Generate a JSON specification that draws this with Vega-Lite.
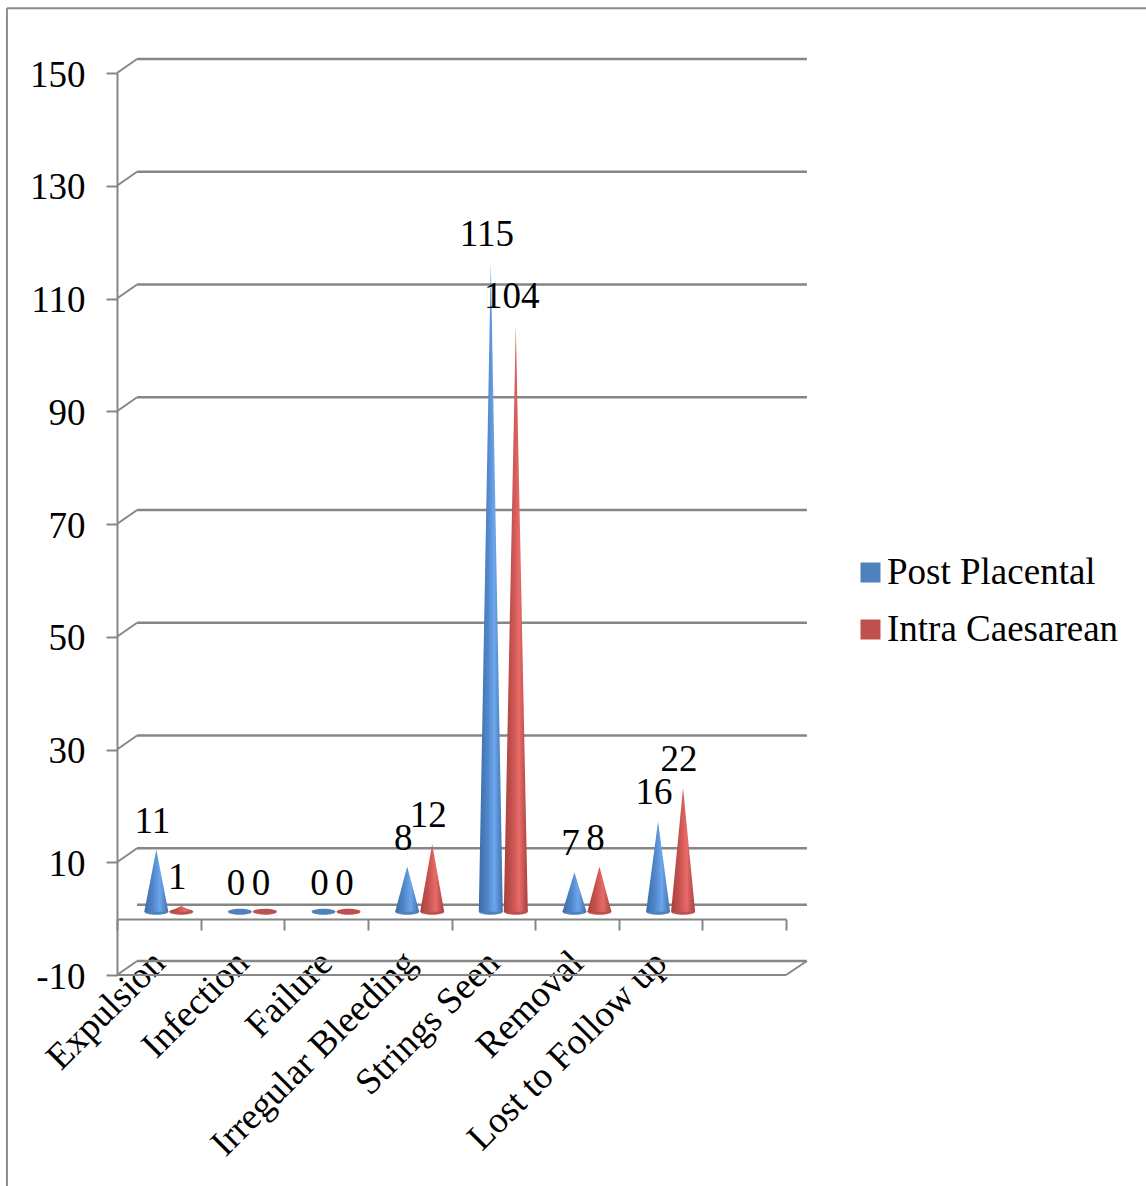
{
  "$schema": "https://vega.github.io/schema/vega-lite/v6.json",
  "autosize": "none",
  "padding": {"left": 117, "top": 59, "right": 339, "bottom": 211},
  "width": 690,
  "height": 916,
  "background": "white",
  "config": {"view": {"stroke": null}, "font": "Liberation Serif"},
  "datasets": {
    "outcomes": [
      {"category": "Expulsion", "series": "Post Placental", "value": 11, "left": 0, "right": 0},
      {"category": "Infection", "series": "Post Placental", "value": 0, "left": 0, "right": 0},
      {"category": "Failure", "series": "Post Placental", "value": 0, "left": 0, "right": 0},
      {"category": "Irregular Bleeding", "series": "Post Placental", "value": 8, "left": 0, "right": 0},
      {"category": "Strings Seen", "series": "Post Placental", "value": 115, "left": 0, "right": 0},
      {"category": "Removal", "series": "Post Placental", "value": 7, "left": 0, "right": 0},
      {"category": "Lost to Follow up", "series": "Post Placental", "value": 16, "left": 0, "right": 0},
      {"category": "Expulsion", "series": "Intra Caesarean", "value": 1, "left": 0, "right": 0},
      {"category": "Infection", "series": "Intra Caesarean", "value": 0, "left": 0, "right": 0},
      {"category": "Failure", "series": "Intra Caesarean", "value": 0, "left": 0, "right": 0},
      {"category": "Irregular Bleeding", "series": "Intra Caesarean", "value": 12, "left": 0, "right": 0},
      {"category": "Strings Seen", "series": "Intra Caesarean", "value": 104, "left": 0, "right": 0},
      {"category": "Removal", "series": "Intra Caesarean", "value": 8, "left": 0, "right": 0},
      {"category": "Lost to Follow up", "series": "Intra Caesarean", "value": 22, "left": 0, "right": 0}
    ],
    "levels": [
      {"level": -10, "back": -7.52},
      {"level": 10, "back": 12.48},
      {"level": 30, "back": 32.48},
      {"level": 50, "back": 52.48},
      {"level": 70, "back": 72.48},
      {"level": 90, "back": 92.48},
      {"level": 110, "back": 112.48},
      {"level": 130, "back": 132.48},
      {"level": 150, "back": 152.48}
    ]
  },
  "resolve": {"scale": {"x": "independent", "y": "independent", "xOffset": "independent"}},
  "layer": [
    {
      "description": "Outer chart frame",
      "data": {"values": [{"top": 161.5, "bottom": -47.5}]},
      "layer": [
        {
          "mark": {"type": "rule", "color": "#8c8c8c", "strokeWidth": 2},
          "encoding": {
            "x": {"datum": -1.316, "type": "quantitative", "scale": {"domain": [0, 8], "range": [0, 669], "nice": false, "zero": false}, "axis": null},
            "y": {"field": "top", "type": "quantitative", "scale": {"domain": [-10, 150], "range": [916, 14], "nice": false, "zero": false}, "axis": null},
            "y2": {"field": "bottom"}
          }
        },
        {
          "mark": {"type": "rule", "color": "#8c8c8c", "strokeWidth": 2},
          "encoding": {
            "x": {"datum": -1.316, "type": "quantitative", "scale": {"domain": [0, 8], "range": [0, 669], "nice": false, "zero": false}, "axis": null},
            "x2": {"datum": 12.31},
            "y": {"field": "top", "type": "quantitative", "scale": {"domain": [-10, 150], "range": [916, 14], "nice": false, "zero": false}, "axis": null}
          }
        }
      ]
    },
    {
      "description": "Side wall slants, carrying the value axis",
      "data": {"name": "levels"},
      "mark": {"type": "rule", "color": "#868686", "strokeWidth": 2},
      "encoding": {
        "x": {"datum": 0, "type": "quantitative", "scale": {"domain": [0, 8], "range": [0, 669], "nice": false, "zero": false}, "axis": null},
        "x2": {"datum": 0.24},
        "y": {
          "field": "level", "type": "quantitative",
          "scale": {"domain": [-10, 150], "range": [916, 14], "nice": false, "zero": false},
          "axis": {
            "values": [-10, 10, 30, 50, 70, 90, 110, 130, 150],
            "labelExpr": "'' + datum.value",
            "title": null, "grid": false,
            "domainColor": "#868686", "domainWidth": 2,
            "tickColor": "#868686", "tickWidth": 2, "tickSize": 11,
            "labelFont": "Liberation Serif", "labelFontSize": 37, "labelColor": "#000000",
            "labelPadding": 21, "labelOffset": 2, "labelBound": false, "labelFlush": false
          }
        },
        "y2": {"field": "back"}
      }
    },
    {
      "description": "Back wall gridlines and the floor edges",
      "data": {"name": "levels"},
      "layer": [
        {
          "mark": {"type": "rule", "color": "#868686", "strokeWidth": 2.5},
          "encoding": {
            "x": {"datum": 0.24, "type": "quantitative", "scale": {"domain": [0, 8], "range": [0, 669], "nice": false, "zero": false}, "axis": null},
            "x2": {"datum": 8.25},
            "y": {"field": "back", "type": "quantitative", "scale": {"domain": [-10, 150], "range": [916, 14], "nice": false, "zero": false}, "axis": null}
          }
        },
        {
          "data": {"values": [{"back": 2.48}]},
          "mark": {"type": "rule", "color": "#868686", "strokeWidth": 2.5},
          "encoding": {
            "x": {"datum": 0.24, "type": "quantitative", "scale": {"domain": [0, 8], "range": [0, 669], "nice": false, "zero": false}, "axis": null},
            "x2": {"datum": 8.25},
            "y": {"field": "back", "type": "quantitative", "scale": {"domain": [-10, 150], "range": [916, 14], "nice": false, "zero": false}, "axis": null}
          }
        },
        {
          "data": {"values": [{"level": -10, "back": -7.52}]},
          "layer": [
            {
              "mark": {"type": "rule", "color": "#868686", "strokeWidth": 2},
              "encoding": {
                "x": {"datum": 0, "type": "quantitative", "scale": {"domain": [0, 8], "range": [0, 669], "nice": false, "zero": false}, "axis": null},
                "x2": {"datum": 8},
                "y": {"field": "level", "type": "quantitative", "scale": {"domain": [-10, 150], "range": [916, 14], "nice": false, "zero": false}, "axis": null}
              }
            },
            {
              "mark": {"type": "rule", "color": "#868686", "strokeWidth": 2},
              "encoding": {
                "x": {"datum": 8, "type": "quantitative", "scale": {"domain": [0, 8], "range": [0, 669], "nice": false, "zero": false}, "axis": null},
                "x2": {"datum": 8.25},
                "y": {"field": "level", "type": "quantitative", "scale": {"domain": [-10, 150], "range": [916, 14], "nice": false, "zero": false}, "axis": null},
                "y2": {"field": "back"}
              }
            }
          ]
        }
      ]
    },
    {
      "description": "Category axis along the front edge of the floor",
      "data": {"name": "outcomes"},
      "mark": {"type": "point", "opacity": 0},
      "encoding": {
        "x": {
          "field": "category", "type": "nominal", "sort": null,
          "scale": {
            "domain": ["Expulsion", "Infection", "Failure", "Irregular Bleeding", "Strings Seen", "Removal", "Lost to Follow up", " "],
            "range": [0, 669], "paddingInner": 0, "paddingOuter": 0
          },
          "axis": {
            "title": null, "orient": "bottom", "offset": -56, "tickBand": "extent",
            "domainColor": "#868686", "domainWidth": 2,
            "tickColor": "#868686", "tickWidth": 2, "tickSize": 11,
            "labelFont": "Liberation Serif", "labelFontSize": 37, "labelColor": "#000000",
            "labelAngle": -45, "labelAlign": "right", "labelBaseline": "middle",
            "labelPadding": 27, "labelOverlap": false, "labelBound": false, "labelFlush": false, "labelLimit": 0
          }
        },
        "y": {"datum": 0, "type": "quantitative", "scale": {"domain": [-10, 150], "range": [916, 14], "nice": false, "zero": false}, "axis": null}
      }
    },
    {
      "description": "Post Placental cones",
      "data": {"name": "outcomes"},
      "transform": [{"filter": "datum.series === 'Post Placental'"}],
      "encoding": {
        "x": {
          "field": "category", "type": "nominal", "sort": null,
          "scale": {
            "type": "point",
            "domain": ["Expulsion", "Infection", "Failure", "Irregular Bleeding", "Strings Seen", "Removal", "Lost to Follow up", " "],
            "range": [10, 679], "padding": 0.5
          },
          "axis": null
        }
      },
      "layer": [
        {
          "mark": {"type": "point", "filled": true, "opacity": 1, "size": 576, "strokeWidth": 0, "shape": "M-1,0A1,0.25,0,1,1,1,0A1,0.25,0,1,1,-1,0Z"},
          "encoding": {
            "xOffset": {"datum": "value", "type": "nominal", "scale": {"type": "point", "padding": 0, "domain": ["left", "value", "right"], "range": [-24.5, -0.5]}},
            "y": {"datum": 0, "type": "quantitative", "scale": {"domain": [-10, 150], "range": [909, 7], "nice": false, "zero": false}, "axis": null},
            "color": {
              "field": "series", "type": "nominal",
              "scale": {"domain": ["Post Placental", "Intra Caesarean"], "range": ["#4F81BD", "#C0504D"]},
              "legend": {
                "title": null, "orient": "none", "legendX": 735, "legendY": 495,
                "symbolType": "square", "symbolSize": 400, "symbolStrokeWidth": 0, "symbolOpacity": 1,
                "labelFont": "Liberation Serif", "labelFontSize": 37, "labelColor": "#000000",
                "labelOffset": -2, "rowPadding": 19, "labelLimit": 0
              }
            }
          }
        },
        {
          "transform": [{"fold": ["left", "value", "right"], "as": ["corner", "height"]}],
          "mark": {
            "type": "area", "interpolate": "linear",
            "color": {"gradient": "linear", "x1": 0, "y1": 0, "x2": 1, "y2": 0, "stops": [
              {"offset": 0, "color": "#3C6CA6"},
              {"offset": 0.35, "color": "#4F85C8"},
              {"offset": 0.65, "color": "#6CA6EC"},
              {"offset": 1, "color": "#3E70AC"}
            ]}
          },
          "encoding": {
            "xOffset": {"field": "corner", "type": "nominal", "sort": null, "scale": {"type": "point", "padding": 0, "domain": ["left", "value", "right"], "range": [-24.5, -0.5]}},
            "y": {"field": "height", "type": "quantitative", "stack": null, "scale": {"domain": [-10, 150], "range": [909, 7], "nice": false, "zero": false}, "axis": null},
            "detail": {"field": "category"}
          }
        },
        {
          "mark": {"type": "text", "font": "Liberation Serif", "fontSize": 37, "color": "#000000", "baseline": "middle", "dy": -28, "dx": -4},
          "encoding": {
            "xOffset": {"datum": "value", "type": "nominal", "scale": {"type": "point", "padding": 0, "domain": ["left", "value", "right"], "range": [-24.5, -0.5]}},
            "y": {"field": "value", "type": "quantitative", "scale": {"domain": [-10, 150], "range": [909, 7], "nice": false, "zero": false}, "axis": null},
            "text": {"field": "value", "type": "quantitative"}
          }
        }
      ]
    },
    {
      "description": "Intra Caesarean cones",
      "data": {"name": "outcomes"},
      "transform": [{"filter": "datum.series === 'Intra Caesarean'"}],
      "encoding": {
        "x": {
          "field": "category", "type": "nominal", "sort": null,
          "scale": {
            "type": "point",
            "domain": ["Expulsion", "Infection", "Failure", "Irregular Bleeding", "Strings Seen", "Removal", "Lost to Follow up", " "],
            "range": [10, 679], "padding": 0.5
          },
          "axis": null
        }
      },
      "layer": [
        {
          "mark": {"type": "point", "filled": true, "opacity": 1, "size": 576, "strokeWidth": 0, "shape": "M-1,0A1,0.25,0,1,1,1,0A1,0.25,0,1,1,-1,0Z"},
          "encoding": {
            "xOffset": {"datum": "value", "type": "nominal", "scale": {"type": "point", "padding": 0, "domain": ["left", "value", "right"], "range": [0.5, 24.5]}},
            "y": {"datum": 0, "type": "quantitative", "scale": {"domain": [-10, 150], "range": [909, 7], "nice": false, "zero": false}, "axis": null},
            "color": {"field": "series", "type": "nominal", "scale": {"domain": ["Post Placental", "Intra Caesarean"], "range": ["#4F81BD", "#C0504D"]}}
          }
        },
        {
          "transform": [{"fold": ["left", "value", "right"], "as": ["corner", "height"]}],
          "mark": {
            "type": "area", "interpolate": "linear",
            "color": {"gradient": "linear", "x1": 0, "y1": 0, "x2": 1, "y2": 0, "stops": [
              {"offset": 0, "color": "#A83F3C"},
              {"offset": 0.35, "color": "#C65350"},
              {"offset": 0.65, "color": "#E86A68"},
              {"offset": 1, "color": "#A6403C"}
            ]}
          },
          "encoding": {
            "xOffset": {"field": "corner", "type": "nominal", "sort": null, "scale": {"type": "point", "padding": 0, "domain": ["left", "value", "right"], "range": [0.5, 24.5]}},
            "y": {"field": "height", "type": "quantitative", "stack": null, "scale": {"domain": [-10, 150], "range": [909, 7], "nice": false, "zero": false}, "axis": null},
            "detail": {"field": "category"}
          }
        },
        {
          "mark": {"type": "text", "font": "Liberation Serif", "fontSize": 37, "color": "#000000", "baseline": "middle", "dy": -28, "dx": -4},
          "encoding": {
            "xOffset": {"datum": "value", "type": "nominal", "scale": {"type": "point", "padding": 0, "domain": ["left", "value", "right"], "range": [0.5, 24.5]}},
            "y": {"field": "value", "type": "quantitative", "scale": {"domain": [-10, 150], "range": [909, 7], "nice": false, "zero": false}, "axis": null},
            "text": {"field": "value", "type": "quantitative"}
          }
        }
      ]
    }
  ]
}
